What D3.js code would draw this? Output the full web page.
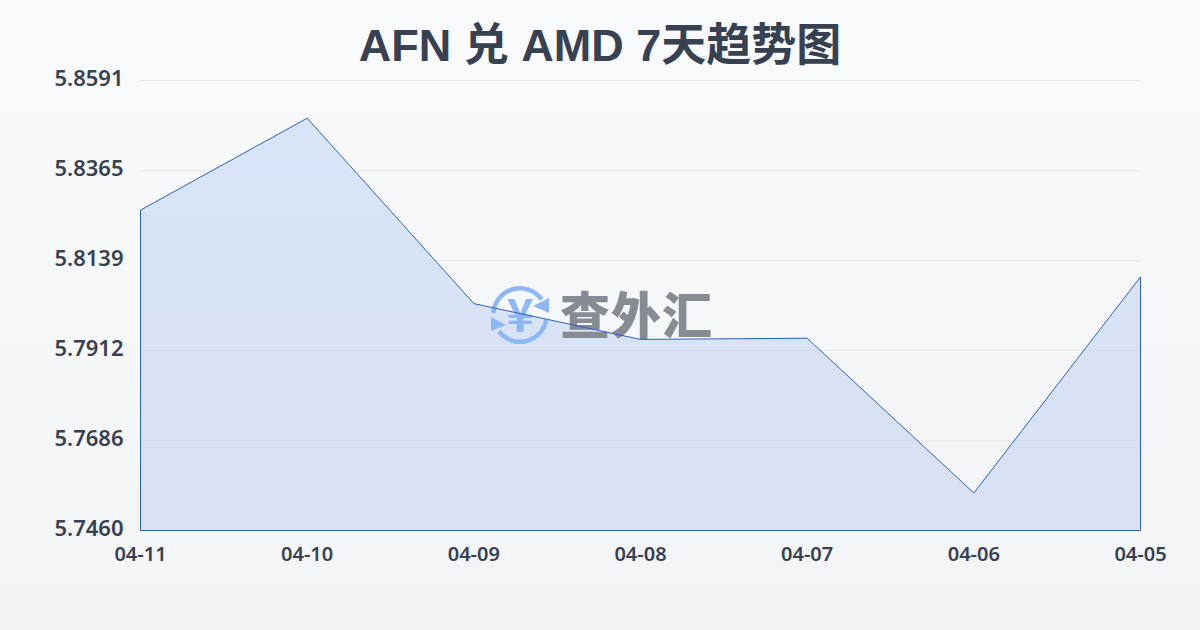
<!DOCTYPE html>
<html><head><meta charset="utf-8">
<script src="https://cdn.jsdelivr.net/npm/d3@7/dist/d3.min.js"></script>
<style>html,body{margin:0;padding:0;background:#f9fafb}svg{display:block}</style>
</head><body><div id="c"></div>
<script>
const dates = ["04-11","04-10","04-09","04-08","04-07","04-06","04-05"];
const rates = [5.8264,5.8495,5.8029,5.7939,5.7942,5.7553,5.8096];
const yTicks = [5.7460,5.7686,5.7912,5.8139,5.8365,5.8591];
const titleText = "AFN 兑 AMD 7天趋势图";
const logoText = "查外汇";
const W=1200,H=630,L=140.5,R=1140.5,T=80,B=530.5;
const svg=d3.select("#c").append("svg").attr("width",W).attr("height",H);
const defs=svg.append("defs");
const bg=defs.append("linearGradient").attr("id","bg").attr("x1",0).attr("y1",0).attr("x2",0).attr("y2",1);
bg.append("stop").attr("offset",0).attr("stop-color","#f9fafb");
bg.append("stop").attr("offset",1).attr("stop-color","#f3f4f6");
const fg=defs.append("linearGradient").attr("id","fg").attr("gradientUnits","userSpaceOnUse").attr("x1",0).attr("y1",T).attr("x2",0).attr("y2",B);
fg.append("stop").attr("offset",0).attr("stop-color","#d8e5f8");
fg.append("stop").attr("offset",1).attr("stop-color","#d9e1f3");
svg.append("rect").attr("width",W).attr("height",H).attr("fill","url(#bg)");
const x=d3.scalePoint().domain(dates).range([L,R]);
const y=d3.scaleLinear().domain([yTicks[0],yTicks[yTicks.length-1]]).range([530,T]);
const sans="'Noto Sans','Noto Sans CJK SC',sans-serif";
// grid
svg.append("g").selectAll("line").data(yTicks).join("line")
 .attr("x1",140).attr("x2",1140).attr("y1",d=>Math.round(y(d))+.5).attr("y2",d=>Math.round(y(d))+.5)
 .attr("stroke","#e5e7eb").attr("stroke-width",1);
// area
const pts=dates.map((d,i)=>[d,rates[i]]);
svg.append("path").datum(pts).attr("d",d3.area().x(d=>x(d[0])).y0(B).y1(d=>y(d[1])))
 .attr("fill","url(#fg)");
defs.append("clipPath").attr("id","areaClip").append("path").datum(pts)
 .attr("d",d3.area().x(d=>x(d[0])).y0(B).y1(d=>y(d[1])));
svg.append("g").attr("clip-path","url(#areaClip)").selectAll("line").data(yTicks.slice(1,4)).join("line")
 .attr("x1",140).attr("x2",1140).attr("y1",d=>Math.round(y(d))+.5).attr("y2",d=>Math.round(y(d))+.5)
 .attr("stroke","#cfd9ec").attr("stroke-width",1).attr("stroke-opacity",.7);
// watermark
const logo=svg.append("g").attr("transform","translate(520,315)");
const arc=d3.arc().innerRadius(24.5).outerRadius(29);
const blue="#8db8f8";
logo.append("path").attr("d",arc({startAngle:-1.5,endAngle:0.95})).attr("fill",blue);
logo.append("path").attr("d",arc({startAngle:1.75,endAngle:4.05})).attr("fill",blue);
logo.append("path").attr("d",d3.line()([[29,-17],[29,-2],[13,-9]])).attr("fill",blue);
logo.append("path").attr("d",d3.line()([[-29,2],[-29,16],[-14,10]])).attr("fill",blue);
logo.append("text").attr("x",0).attr("y",0).attr("text-anchor","middle").attr("dy","0.36em")
 .attr("font-family","'Noto Sans CJK SC'").attr("font-weight",700).attr("font-size",46).attr("fill",blue).text("¥");
svg.append("text").attr("x",636).attr("y",334).attr("text-anchor","middle")
 .attr("font-family","'Noto Sans CJK SC'").attr("font-weight",900).attr("font-size",50)
 .attr("fill","#868b94").attr("textLength",152).text(logoText);
// line
svg.append("path")
 .attr("d",d3.line().x(d=>x(d[0])).y(d=>y(d[1]))(pts)+`V${B}H${L}Z`)
 .attr("fill","none").attr("stroke","#2b5fc2").attr("stroke-width",1);
// axes
svg.append("g").selectAll("text").data(yTicks).join("text")
 .attr("x",123.5).attr("y",d=>y(d)+6).attr("text-anchor","end")
 .attr("font-family",sans).attr("font-weight",600).attr("font-size",22).attr("fill","#374151").text(d=>d.toFixed(4));
svg.append("g").selectAll("text").data(dates).join("text")
 .attr("x",d=>x(d)).attr("y",561).attr("text-anchor","middle")
 .attr("font-family",sans).attr("font-weight",600).attr("font-size",20).attr("fill","#374151").text(d=>d);
// title
svg.append("text").attr("x",600).attr("y",61).attr("text-anchor","middle")
 .attr("font-family","'Liberation Sans','Noto Sans CJK SC',sans-serif").attr("font-weight",700).attr("font-size",45)
 .attr("fill","#374151").text(titleText);
</script></body></html>
